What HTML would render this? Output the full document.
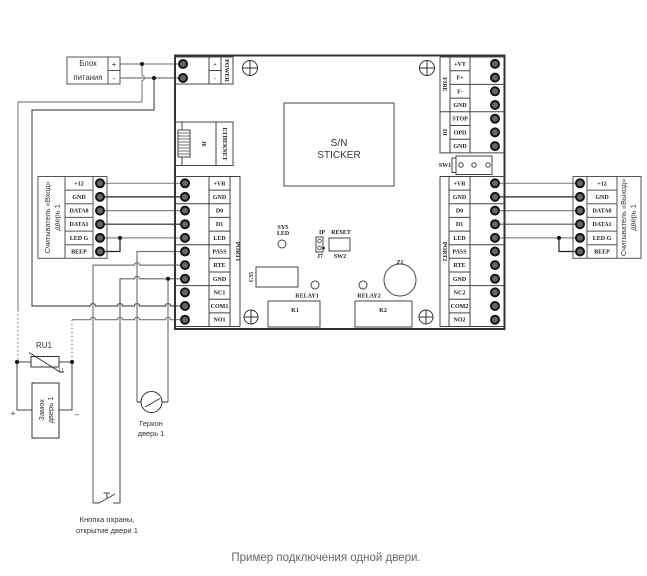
<!DOCTYPE html>
<html><head><meta charset="utf-8">
<style>
html,body{margin:0;padding:0;background:#fff;}
svg{display:block;}
.t{font-family:"Liberation Serif",serif;font-weight:bold;font-size:6px;fill:#222;}
.s{font-family:"Liberation Sans","Noto Sans CJK SC",sans-serif;fill:#333;}
</style></head><body>
<svg width="647" height="576" viewBox="0 0 647 576" xmlns="http://www.w3.org/2000/svg">
<rect width="647" height="576" fill="#fff"/>

<!-- ===== wires (under everything) ===== -->
<g fill="none" stroke-width="1.2">
  <!-- power -->
  <line x1="120" y1="64" x2="183" y2="64" stroke="#888"/>
  <line x1="120" y1="78" x2="183" y2="78" stroke="#777"/>
  <path d="M142,64 V75.5 a2.5,2.5 0 0 1 0,5 V102 H18 V310" stroke="#888"/>
  <path d="M18,310 V362" stroke="#888" stroke-dasharray="1.5,2.5"/>
  <path d="M154,78 V110 H32 V306 H90.5 a2.5,2.5 0 0 1 5,0 H117.5 a2.5,2.5 0 0 1 5,0 H134.5 a2.5,2.5 0 0 1 5,0 H165.5 a2.5,2.5 0 0 1 5,0 H185" stroke="#555"/>
  <!-- left reader wires -->
  <line x1="100" y1="183.3" x2="185" y2="183.3" stroke="#888"/>
  <line x1="100" y1="196.9" x2="185" y2="196.9" stroke="#222"/>
  <line x1="100" y1="210.6" x2="185" y2="210.6" stroke="#888"/>
  <line x1="100" y1="224.2" x2="185" y2="224.2" stroke="#222"/>
  <line x1="100" y1="237.9" x2="185" y2="237.9" stroke="#888"/>
  <path d="M120,237.9 V251.5 H100" stroke="#222"/>
  <!-- right reader wires -->
  <line x1="495" y1="183.3" x2="580" y2="183.3" stroke="#888"/>
  <line x1="495" y1="196.9" x2="580" y2="196.9" stroke="#222"/>
  <line x1="495" y1="210.6" x2="580" y2="210.6" stroke="#888"/>
  <line x1="495" y1="224.2" x2="580" y2="224.2" stroke="#555"/>
  <line x1="495" y1="237.9" x2="580" y2="237.9" stroke="#888"/>
  <path d="M559,237.9 V251.5 H580" stroke="#222"/>
  <!-- port1 lower wires -->
  <path d="M185,251.5 H137 V402" stroke="#777"/>
  <path d="M185,265.1 H139.5 a2.5,2.5 0 0 0 -5,0 H93 V503" stroke="#777"/>
  <path d="M185,278.8 H139.5 a2.5,2.5 0 0 0 -5,0 H120 V503" stroke="#666"/>
  <path d="M168,278.8 V402" stroke="#777"/>
  <path d="M72,319.7 H90.5 a2.5,2.5 0 0 1 5,0 H117.5 a2.5,2.5 0 0 1 5,0 H134.5 a2.5,2.5 0 0 1 5,0 H165.5 a2.5,2.5 0 0 1 5,0 H185" stroke="#777"/>
  <path d="M72,319.7 V362" stroke="#888" stroke-dasharray="1.5,2.5"/>
  <!-- gerkon -->
  <path d="M137,402 H141 M162,402 H168" stroke="#555"/>
  <circle cx="151.5" cy="402" r="10.5" stroke="#333" stroke-width="1"/>
  <line x1="145" y1="407" x2="160" y2="398.5" stroke="#333" stroke-width="1"/>
  <!-- button -->
  <path d="M93,503 H99 L115,494 M113,503 H120" stroke="#444" stroke-width="1"/>
  <path d="M107,498 V493 M103.5,493 H110" stroke="#444" stroke-width="1"/>
  <!-- lock & varistor -->
  <path d="M17,362 H31 M59,362 H72" stroke="#444" stroke-width="1"/>
  <rect x="31" y="356.5" width="28" height="10.5" stroke="#333" stroke-width="1"/>
  <path d="M29,352.5 L60,372 H64" stroke="#333" stroke-width="1"/>
  <path d="M17,362 V410 H32 M72,362 V410 H59" stroke="#444" stroke-width="1"/>
  <rect x="32" y="383" width="27" height="55" stroke="#333" stroke-width="1"/>
</g>
<g fill="#111">
  <circle cx="142" cy="64" r="2"/>
  <circle cx="154" cy="78" r="2"/>
  <circle cx="120" cy="237.9" r="2"/>
  <circle cx="559" cy="237.9" r="2"/>
  <circle cx="168" cy="278.8" r="2"/>
  <circle cx="17" cy="362" r="2"/>
  <circle cx="72" cy="362" r="2"/>
</g>
<text x="44" y="348" class="s" font-size="8" text-anchor="middle">RU1</text>
<text x="61" y="372" class="s" font-size="5.5" text-anchor="middle">U</text>
<text x="13" y="416" class="s" font-size="8" text-anchor="middle">+</text>
<text x="77" y="417" class="s" font-size="8" text-anchor="middle">–</text>
<text transform="translate(44,410) rotate(-90)" class="s" font-size="7.5" text-anchor="middle">Замок</text>
<text transform="translate(53,410) rotate(-90)" class="s" font-size="7.5" text-anchor="middle">дверь 1</text>
<text x="151" y="426" class="s" font-size="7.5" text-anchor="middle">Геркон</text>
<text x="151" y="436" class="s" font-size="7.5" text-anchor="middle">дверь 1</text>
<text x="107" y="522" class="s" font-size="7.6" text-anchor="middle">Кнопка охраны,</text>
<text x="107" y="533" class="s" font-size="7.6" text-anchor="middle">открытие двери 1</text>

<!-- ===== power supply block ===== -->
<g fill="none" stroke="#555" stroke-width="1">
  <rect x="67" y="57" width="53" height="27"/>
  <line x1="108" y1="57" x2="108" y2="84"/>
  <line x1="108" y1="70.5" x2="120" y2="70.5"/>
</g>
<text x="88" y="66" class="s" font-size="7.8" text-anchor="middle">Блок</text>
<text x="88" y="80" class="s" font-size="7.8" text-anchor="middle">питания</text>
<text x="114" y="67" class="s" font-size="8" text-anchor="middle">+</text>
<text x="114" y="81" class="s" font-size="8" text-anchor="middle">-</text>

<!-- ===== board ===== -->
<g fill="none" stroke="#444" stroke-width="1">
  <rect x="175" y="55.5" width="329.5" height="273.5" stroke="#333" stroke-width="2"/>
  <!-- power terminal -->
  <path d="M175,57 H233 V84 H175 M209,57 V84 M209,70.5 H221 M221,57 V84"/>
  <!-- ethernet -->
  <rect x="175" y="122" width="58" height="43.5"/>
  <line x1="216" y1="122" x2="216" y2="165.5"/>
  <path d="M182,122 V130 M182,157 V165.5"/>
  <rect x="178" y="130" width="12" height="27"/>
  <path d="M178,133 H190 M178,136 H190 M178,139 H190 M178,142 H190 M178,145 H190 M178,148 H190 M178,151 H190 M178,154 H190" stroke-width="0.8"/>
  <!-- S/N -->
  <rect x="284" y="103" width="110" height="83"/>
  <!-- port1 -->
  <path d="M175,176.5 H240 V326.5 M209,176.5 V326.5 M230,176.5 V326.5 M175,203.8 H209 M175,244.7 H209 M175,285.6 H209"/>
  <path d="M209,190.1 H230 M209,203.8 H230 M209,217.4 H230 M209,231.1 H230 M209,244.7 H230 M209,258.3 H230 M209,272 H230 M209,285.6 H230 M209,299.3 H230 M209,312.9 H230 M175,326.5 H240"/>
  <!-- fire/DI -->
  <path d="M440,57 H504 M440,57 V152.9 H504 M450,57 V152.9 M470,57 V152.9 M440,111.8 H504 M470,84.4 H504"/>
  <path d="M450,70.7 H470 M450,84.4 H470 M450,98.1 H470 M450,125.5 H470 M450,139.2 H470"/>
  <!-- SW1 -->
  <rect x="456" y="156" width="36" height="18.5"/>
  <path d="M456,158 H452 V172.5 H456"/>
  <!-- port2 -->
  <path d="M440,176.5 H504 M440,176.5 V326.5 H504 M449,176.5 V326.5 M470,176.5 V326.5 M470,203.8 H504 M470,244.7 H504 M470,285.6 H504"/>
  <path d="M449,190.1 H470 M449,203.8 H470 M449,217.4 H470 M449,231.1 H470 M449,244.7 H470 M449,258.3 H470 M449,272 H470 M449,285.6 H470 M449,299.3 H470 M449,312.9 H470"/>
  <!-- internal parts -->
  <circle cx="282" cy="244" r="4"/>
  <rect x="316" y="237" width="7" height="15"/>
  <rect x="329" y="238" width="21" height="13"/>
  <rect x="256" y="267" width="42" height="20"/>
  <circle cx="315" cy="285" r="4"/>
  <circle cx="363" cy="285" r="4"/>
  <circle cx="400" cy="280" r="16"/>
  <rect x="268" y="301" width="52" height="26"/>
  <rect x="355" y="301" width="57" height="26"/>
  <circle cx="461" cy="165" r="2.2"/>
  <circle cx="474" cy="165" r="2.2"/>
  <circle cx="488" cy="165" r="2.2"/>
</g>
<circle cx="319.5" cy="241" r="1.8" fill="none" stroke="#444" stroke-width="0.8"/>
<circle cx="319.5" cy="248" r="1.8" fill="none" stroke="#444" stroke-width="0.8"/>
<circle cx="323.5" cy="248" r="1.3" fill="#111"/>

<!-- mounting holes -->
<g fill="none" stroke="#333" stroke-width="1">
  <circle cx="250" cy="68" r="7.5"/><path d="M242.5,68 H257.5 M250,60.5 V75.5"/>
  <circle cx="427" cy="68" r="7.5"/><path d="M419.5,68 H434.5 M427,60.5 V75.5"/>
  <circle cx="251" cy="317" r="7"/><path d="M244,317 H258 M251,310 V324"/>
  <circle cx="426" cy="317" r="7"/><path d="M419,317 H433 M426,310 V324"/>
</g>

<!-- board texts -->
<text x="215" y="66" class="t" font-size="7" text-anchor="middle">+</text>
<text x="215" y="80" class="t" font-size="7" text-anchor="middle">-</text>
<text transform="translate(225,70.5) rotate(90)" class="t" font-size="4.5" text-anchor="middle">POWER</text>
<text transform="translate(202,143.5) rotate(90)" class="t" font-size="4.5" text-anchor="middle">J6</text>
<text transform="translate(223,144) rotate(90)" class="t" font-size="4.5" text-anchor="middle">ETHERNET</text>
<text x="339" y="146" class="s" font-size="10" fill="#222" text-anchor="middle">S/N</text>
<text x="339" y="158" class="s" font-size="10" fill="#222" text-anchor="middle">STICKER</text>
<text x="283" y="229" class="t" font-size="5.5" text-anchor="middle">SYS</text>
<text x="283" y="235" class="t" font-size="5.5" text-anchor="middle">LED</text>
<text x="322" y="234" class="t" font-size="6" text-anchor="middle">IP</text>
<text x="341" y="234" class="t" font-size="6" text-anchor="middle">RESET</text>
<text x="320" y="258" class="t" font-size="4" text-anchor="middle">J7</text>
<text x="340" y="258" class="t" font-size="4" text-anchor="middle">SW2</text>
<text transform="translate(253,277) rotate(-90)" class="t" font-size="4.5" text-anchor="middle">C35</text>
<text x="400" y="264" class="t" font-size="5" text-anchor="middle">Z1</text>
<text x="307" y="297.5" class="t" font-size="6.3" text-anchor="middle">RELAY1</text>
<text x="369" y="297.5" class="t" font-size="6.3" text-anchor="middle">RELAY2</text>
<text x="295" y="312" class="t" font-size="6.5" text-anchor="middle">K1</text>
<text x="383" y="312" class="t" font-size="6.5" text-anchor="middle">K2</text>
<text x="445" y="167" class="t" font-size="4.5" text-anchor="middle">SW1</text>
<text transform="translate(236,251.5) rotate(90)" class="t" font-size="5" text-anchor="middle">PORT1</text>
<text transform="translate(443,251.5) rotate(90)" class="t" font-size="5" text-anchor="middle">PORT2</text>
<text transform="translate(443,84.4) rotate(90)" class="t" font-size="5" text-anchor="middle">FIRE</text>
<text transform="translate(443,132.3) rotate(90)" class="t" font-size="5" text-anchor="middle">DI</text>

<!-- port1 labels -->
<g class="t" text-anchor="middle">
  <text x="219.5" y="185.3">+VR</text>
  <text x="219.5" y="198.9">GND</text>
  <text x="219.5" y="212.6">D0</text>
  <text x="219.5" y="226.2">D1</text>
  <text x="219.5" y="239.9">LED</text>
  <text x="219.5" y="253.5">PASS</text>
  <text x="219.5" y="267.1">RTE</text>
  <text x="219.5" y="280.8">GND</text>
  <text x="219.5" y="294.4">NC1</text>
  <text x="219.5" y="308">COM1</text>
  <text x="219.5" y="321.7">NO1</text>
</g>
<!-- port2 labels -->
<g class="t" text-anchor="middle">
  <text x="459.5" y="185.3">+VR</text>
  <text x="459.5" y="198.9">GND</text>
  <text x="459.5" y="212.6">D0</text>
  <text x="459.5" y="226.2">D1</text>
  <text x="459.5" y="239.9">LED</text>
  <text x="459.5" y="253.5">PASS</text>
  <text x="459.5" y="267.1">RTE</text>
  <text x="459.5" y="280.8">GND</text>
  <text x="459.5" y="294.4">NC2</text>
  <text x="459.5" y="308">COM2</text>
  <text x="459.5" y="321.7">NO2</text>
</g>
<!-- fire labels -->
<g class="t" text-anchor="middle">
  <text x="460" y="65.9">+VT</text>
  <text x="460" y="79.6">F+</text>
  <text x="460" y="93.3">F-</text>
  <text x="460" y="107">GND</text>
  <text x="460" y="120.7">STOP</text>
  <text x="460" y="134.4">OPD</text>
  <text x="460" y="148.1">GND</text>
</g>

<!-- ===== readers ===== -->
<g fill="none" stroke="#555" stroke-width="1">
  <rect x="38" y="176.5" width="69" height="81.8"/>
  <path d="M65,176.5 V258.3 M93,176.5 V258.3"/>
  <path d="M65,190.1 H93 M65,203.8 H93 M65,217.4 H93 M65,231.1 H93 M65,244.7 H93"/>
  <rect x="573" y="176.5" width="68" height="81.8"/>
  <path d="M587,176.5 V258.3 M617,176.5 V258.3"/>
  <path d="M587,190.1 H617 M587,203.8 H617 M587,217.4 H617 M587,231.1 H617 M587,244.7 H617"/>
</g>
<g class="t" text-anchor="middle">
  <text x="79" y="185.3">+12</text>
  <text x="79" y="198.9">GND</text>
  <text x="79" y="212.6">DATA0</text>
  <text x="79" y="226.2">DATA1</text>
  <text x="79" y="239.9">LED G</text>
  <text x="79" y="253.5">BEEP</text>
  <text x="602" y="185.3">+12</text>
  <text x="602" y="198.9">GND</text>
  <text x="602" y="212.6">DATA0</text>
  <text x="602" y="226.2">DATA1</text>
  <text x="602" y="239.9">LED G</text>
  <text x="602" y="253.5">BEEP</text>
</g>
<text transform="translate(50,217.4) rotate(-90)" class="s" font-size="7.4" text-anchor="middle">Считыватель «Вход»</text>
<text transform="translate(59.5,217.4) rotate(-90)" class="s" font-size="7.4" text-anchor="middle">дверь 1</text>
<text transform="translate(626,217.4) rotate(-90)" class="s" font-size="7.4" text-anchor="middle">Считыватель «Выход»</text>
<text transform="translate(635.5,217.4) rotate(-90)" class="s" font-size="7.4" text-anchor="middle">дверь 1</text>

<!-- ===== terminal circles ===== -->
<g fill="#666" stroke="#151515" stroke-width="2">
  <circle cx="183" cy="64" r="4"/><circle cx="183" cy="78" r="4"/>
  <circle cx="185" cy="183.3" r="4"/><circle cx="185" cy="196.9" r="4"/><circle cx="185" cy="210.6" r="4"/>
  <circle cx="185" cy="224.2" r="4"/><circle cx="185" cy="237.9" r="4"/><circle cx="185" cy="251.5" r="4"/>
  <circle cx="185" cy="265.1" r="4"/><circle cx="185" cy="278.8" r="4"/><circle cx="185" cy="292.4" r="4"/>
  <circle cx="185" cy="306" r="4"/><circle cx="185" cy="319.7" r="4"/>
  <circle cx="495" cy="183.3" r="4"/><circle cx="495" cy="196.9" r="4"/><circle cx="495" cy="210.6" r="4"/>
  <circle cx="495" cy="224.2" r="4"/><circle cx="495" cy="237.9" r="4"/><circle cx="495" cy="251.5" r="4"/>
  <circle cx="495" cy="265.1" r="4"/><circle cx="495" cy="278.8" r="4"/><circle cx="495" cy="292.4" r="4"/>
  <circle cx="495" cy="306" r="4"/><circle cx="495" cy="319.7" r="4"/>
  <circle cx="495" cy="63.9" r="4"/><circle cx="495" cy="77.6" r="4"/><circle cx="495" cy="91.3" r="4"/>
  <circle cx="495" cy="105" r="4"/><circle cx="495" cy="118.7" r="4"/><circle cx="495" cy="132.4" r="4"/>
  <circle cx="495" cy="146.1" r="4"/>
  <circle cx="100" cy="183.3" r="4"/><circle cx="100" cy="196.9" r="4"/><circle cx="100" cy="210.6" r="4"/>
  <circle cx="100" cy="224.2" r="4"/><circle cx="100" cy="237.9" r="4"/><circle cx="100" cy="251.5" r="4"/>
  <circle cx="580" cy="183.3" r="4"/><circle cx="580" cy="196.9" r="4"/><circle cx="580" cy="210.6" r="4"/>
  <circle cx="580" cy="224.2" r="4"/><circle cx="580" cy="237.9" r="4"/><circle cx="580" cy="251.5" r="4"/>
</g>

<!-- caption -->
<text x="326" y="561" font-family="Liberation Sans, sans-serif" font-size="11.5" fill="#666" text-anchor="middle">Пример подключения одной двери.</text>
</svg>
</body></html>
